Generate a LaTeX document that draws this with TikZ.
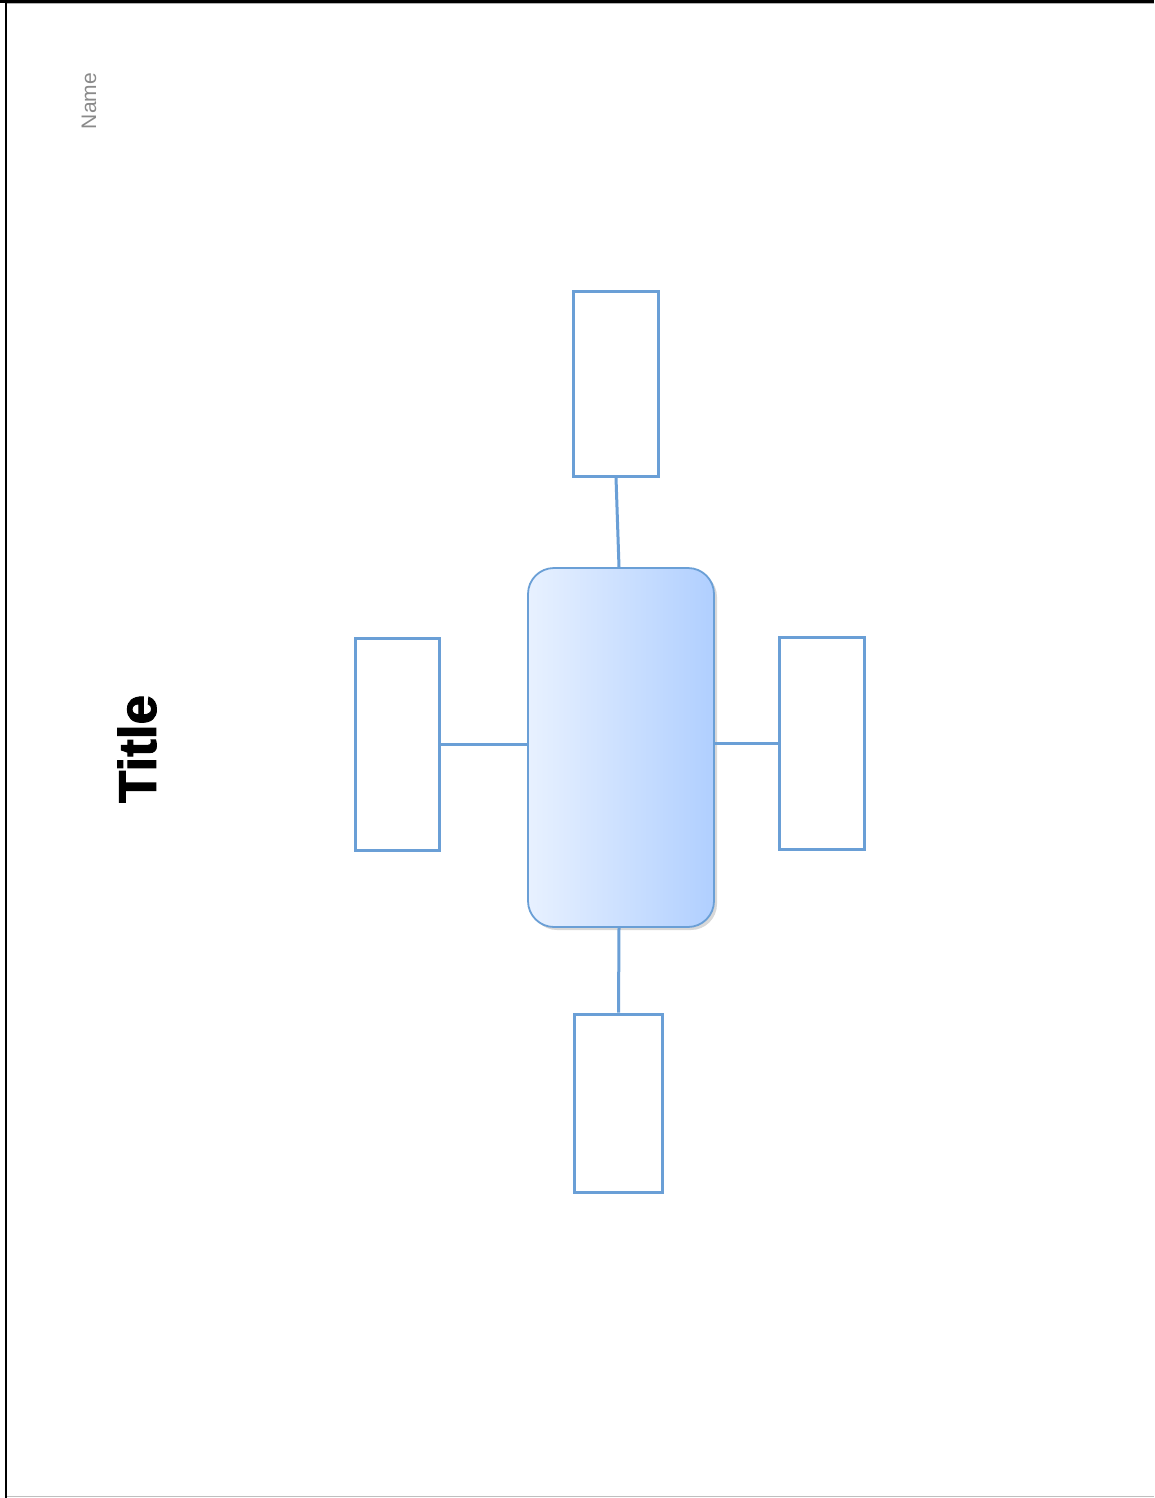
\documentclass[tikz,border=0pt]{standalone}
\usepackage{fontspec}
\setmainfont{Liberation Sans}
\newfontfamily\heavyfont{Liberation Sans}[BoldFont=*, BoldFeatures={FakeBold=2}, UprightFont=* Bold, UprightFeatures={FakeBold=2}]
\usetikzlibrary{shadows}
\definecolor{boxblue}{HTML}{6A9FD6}
\definecolor{gradl}{HTML}{E8F1FF}
\definecolor{gradr}{HTML}{B0CFFF}
\definecolor{namegray}{HTML}{8A8A8A}
\tikzset{
  leafbox/.style={draw=boxblue, line width=3pt, fill=white, rectangle, inner sep=0pt},
  hubbox/.style={draw=boxblue, line width=1.8pt, rectangle, rounded corners=26pt, inner sep=0pt,
    left color=gradl, right color=gradr,
    drop shadow={shadow xshift=3pt, shadow yshift=-3pt, opacity=0.25, fill=black!60}},
  link/.style={draw=boxblue, line width=3pt},
}
\begin{document}
\begin{tikzpicture}[x=1pt,y=-1pt]
\useasboundingbox (0,0) rectangle (1154,1498);
\fill[white] (0,0) rectangle (1154,1498);
% page border
\draw[black, line width=3pt] (0,1.5) -- (1154,1.5);
\draw[gray!60, line width=1pt] (7,3.5) -- (1154,3.5);
\draw[black, line width=2.5pt] (6.2,0) -- (6.2,1498);
\draw[gray!50, line width=1.5pt] (7,1496.5) -- (1154,1496.5);
% texts
\node[rotate=90, text=namegray, font=\fontsize{21}{24}\selectfont] (name) at (89,101) {Name};
\node[rotate=90, font=\fontsize{53}{60}\heavyfont] (title) at (137,749) {Title};
% boxes
\node[hubbox, minimum width=186pt, minimum height=359pt] (hub) at (621,747.5) {};
\node[leafbox, minimum width=85pt, minimum height=185pt] (top) at (616,383.5) {};
\node[leafbox, minimum width=84pt, minimum height=212pt] (left) at (397,744) {};
\node[leafbox, minimum width=85pt, minimum height=212pt] (right) at (821.5,743) {};
\node[leafbox, minimum width=88pt, minimum height=178pt] (bottom) at (618.5,1103) {};
% connectors
\draw[link] (top.south) -- (hub.north -| 619,0);
\draw[link] (left.east) -- (hub.west |- 0,744);
\draw[link] (hub.east |- 0,743) -- (right.west);
\draw[link] (hub.south -| 619,0) -- (bottom.north);
\end{tikzpicture}
\end{document}
